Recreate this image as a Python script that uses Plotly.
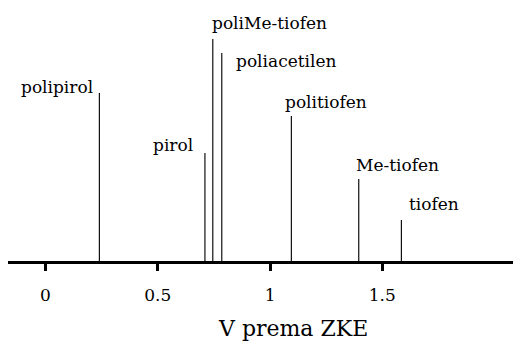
import plotly.graph_objects as go

# Oxidation potentials (V vs. SCE) and relative line heights
names = ["polipirol", "pirol", "poliMe-tiofen", "poliacetilen", "politiofen", "Me-tiofen", "tiofen"]
potentials = [0.24, 0.71, 0.745, 0.785, 1.095, 1.395, 1.585]
heights = [168, 108, 222, 208, 145, 82, 41]

tick_vals = [0, 0.5, 1, 1.5]
tick_text = ["0", "0.5", "1", "1.5"]

# label placement relative to each line top: (xanchor, yanchor, xshift, yshift)
label_pos = [
    ("right", "middle", -4, 6),
    ("right", "middle", -10, 8),
    ("left", "bottom", -3, 4),
    ("left", "middle", 12, -8),
    ("left", "bottom", -8, 2),
    ("left", "bottom", -5, 2),
    ("left", "middle", 6, 16),
]

serif = "DejaVu Serif"

xs, ys = [], []
for p, h in zip(potentials, heights):
    xs += [p, p, None]
    ys += [0, h, None]

fig = go.Figure()
fig.add_trace(go.Scatter(x=xs, y=ys, mode="lines",
                         line=dict(color="#111111", width=1.2),
                         hoverinfo="skip", showlegend=False))

for n, p, h, (xa, ya, dx, dy) in zip(names, potentials, heights, label_pos):
    fig.add_annotation(x=p, y=h, xref="x", yref="y", text=n, showarrow=False,
                       xanchor=xa, yanchor=ya, xshift=dx, yshift=dy,
                       font=dict(family=serif, size=17, color="black"))

fig.add_annotation(x=0.564, y=-0.28, xref="paper", yref="paper",
                   text="V prema ZKE", showarrow=False,
                   xanchor="center", yanchor="middle",
                   font=dict(family=serif, size=22, color="black"))

fig.update_xaxes(range=[-0.167, 2.082], showline=True, linewidth=3, linecolor="black",
                 ticks="outside", ticklen=7, tickwidth=2.5, tickcolor="black",
                 tickvals=tick_vals, ticktext=tick_text, showgrid=False, zeroline=False,
                 ticklabelstandoff=10,
                 tickfont=dict(family=serif, size=17, color="black"))
fig.update_yaxes(range=[0, 240], visible=False, showgrid=False, zeroline=False)

fig.update_layout(width=519, height=344, margin=dict(l=8, r=6, t=21, b=83),
                  paper_bgcolor="white", plot_bgcolor="white")

fig.write_html("out.html")
